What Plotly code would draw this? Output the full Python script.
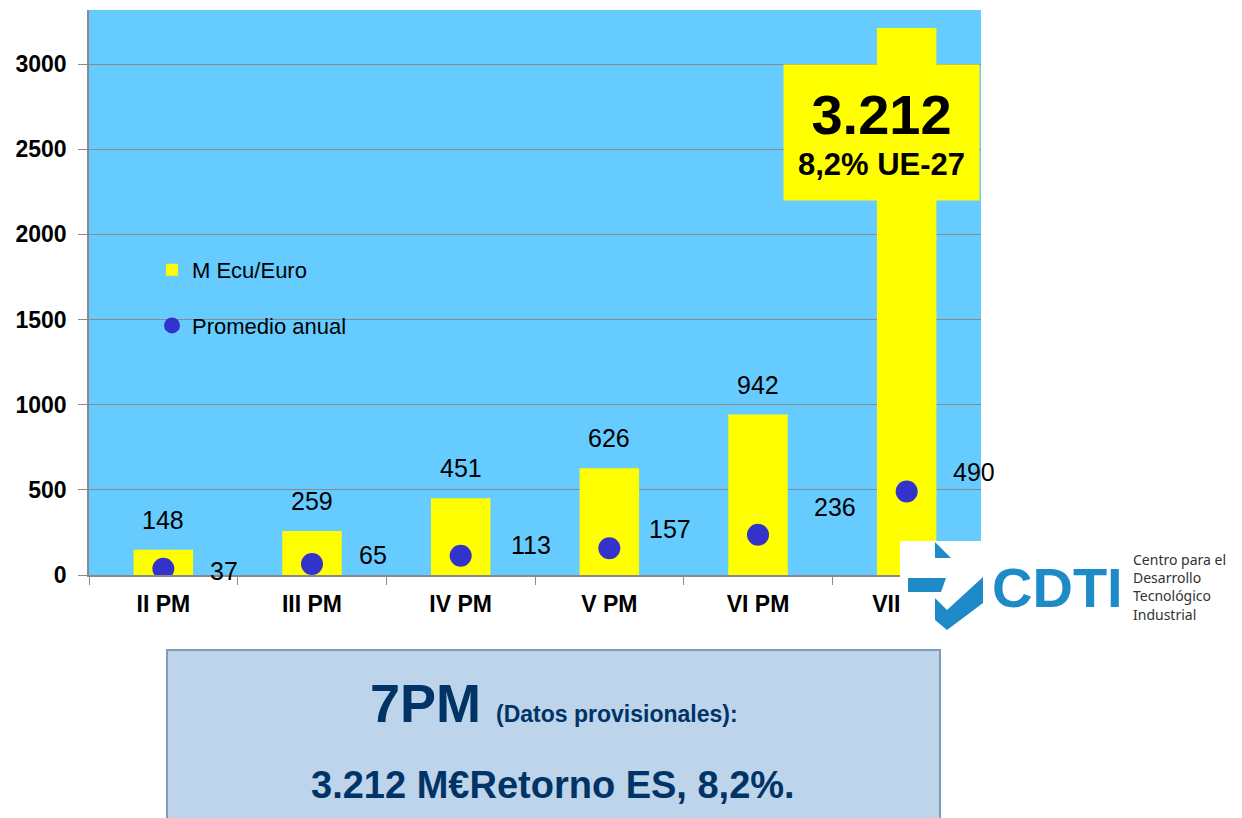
import plotly.graph_objects as go

# data
periods = ["II PM", "III PM", "IV PM", "V PM", "VI PM", "VII PM"]
funding = [148, 259, 451, 626, 942, 3212]      # M Ecu/Euro
annual_avg = [37, 65, 113, 157, 236, 490]      # Promedio anual
share_label = "8,2% UE-27"
box_title = "7PM"
box_note = "(Datos provisionales):"
box_line = "3.212 M€Retorno ES, 8,2%."
logo_word = "CDTI"
logo_lines = ["Centro para el", "Desarrollo", "Tecnológico", "Industrial"]

SANS = "Liberation Sans, Arial, sans-serif"
NAVY = "#003366"
LOGO_BLUE = "#1E8BC8"

W, H = 1242, 818
# page body has an 8px margin, so the plot box (89..981, 10..575 on the page)
# is shifted back by 8px here
L, R, T, B = 81, 269, 2, 251
PW = W - L - R
PH = H - T - B


def px(x):  # page pixel -> paper x
    return (x - 8 - L) / PW


def py(y):  # page pixel -> paper y
    return (H - B - (y - 8)) / PH


def es(v):
    return f"{v:,}".replace(",", ".")


def poly(pts):
    return "M" + " L".join(f"{px(x)},{py(y)}" for x, y in pts) + " Z"


fig = go.Figure()
fig.add_trace(go.Bar(
    x=periods, y=funding, name="M Ecu/Euro", width=0.4,
    marker=dict(color="#FFFF00", line=dict(width=0)),
    legendgroup="a", hoverinfo="skip"
))
fig.add_trace(go.Scatter(
    x=periods, y=annual_avg, name="Promedio anual", mode="markers",
    marker=dict(color="#3333CC", size=22),
    legendgroup="b", hoverinfo="skip"
))

annotations = []
# value labels above bars (the last one gets the big yellow box)
for p, v in zip(periods[:-1], funding[:-1]):
    annotations.append(dict(x=p, y=v, text=str(v), showarrow=False,
                            xanchor="center", yanchor="middle", yshift=30,
                            font=dict(family=SANS, size=25, color="black")))

# labels for the annual averages
dot_dx = [45, 45, 48, 38, 54, 44]
dot_dy = [-2, 9, 11, 19, 28, 20]
for p, v, dx, dy in zip(periods, annual_avg, dot_dx, dot_dy):
    annotations.append(dict(x=p, y=v, text=str(v), showarrow=False,
                            xanchor="left", yanchor="middle", xshift=dx, yshift=dy,
                            font=dict(family=SANS, size=25, color="black")))

annotations.append(dict(
    x=periods[-1], y=funding[-1], showarrow=False, xanchor="center", yanchor="middle",
    text=f"<b><span style='font-size:56px'>{es(funding[-1])}</span><br>{share_label}</b>",
    font=dict(family=SANS, size=31, color="black"),
    bgcolor="#FFFF00", width=195, height=135, borderpad=0,
    xshift=-25.5, yshift=-104.5
))

# bottom box text
annotations.append(dict(
    xref="paper", yref="paper", x=px(554), y=py(703), showarrow=False,
    xanchor="center", yanchor="middle",
    text=f"<b>{box_title} <span style='font-size:23px'>{box_note}</span></b>",
    font=dict(family=SANS, size=54, color=NAVY)
))
annotations.append(dict(
    xref="paper", yref="paper", x=px(553), y=py(785), showarrow=False,
    xanchor="center", yanchor="middle",
    text=f"<b>{box_line}</b>",
    font=dict(family=SANS, size=38, color=NAVY)
))

# logo text
annotations.append(dict(
    xref="paper", yref="paper", x=px(1057), y=py(587), showarrow=False,
    xanchor="center", yanchor="middle",
    text=f"<b>{logo_word}</b>", font=dict(family=SANS, size=56, color=LOGO_BLUE)
))
annotations.append(dict(
    xref="paper", yref="paper", x=px(1131), y=py(587), showarrow=False,
    xanchor="left", yanchor="middle", align="left", text="<br>".join(logo_lines),
    font=dict(family="Noto Sans", size=14, color="#333333")
))

shapes = [
    # provisional data box
    dict(type="rect", xref="paper", yref="paper", layer="above",
         x0=px(167), x1=px(940), y0=py(840), y1=py(650),
         fillcolor="#BDD4EB", line=dict(color="#7E9CBB", width=2)),
    # logo patch
    dict(type="rect", xref="paper", yref="paper", layer="above",
         x0=px(900), x1=px(1250), y0=py(636), y1=py(541),
         fillcolor="white", line=dict(width=0)),
    dict(type="path", xref="paper", yref="paper", layer="above",
         path=poly([(935, 542), (951, 558), (935, 558)]),
         fillcolor=LOGO_BLUE, line=dict(width=0)),
    dict(type="path", xref="paper", yref="paper", layer="above",
         path=poly([(908, 578), (946, 578), (941, 592), (908, 592)]),
         fillcolor=LOGO_BLUE, line=dict(width=0)),
    dict(type="path", xref="paper", yref="paper", layer="above",
         path=poly([(935, 598), (947, 610), (983, 577), (983, 603), (947, 630), (935, 620)]),
         fillcolor=LOGO_BLUE, line=dict(width=0)),
]

fig.update_layout(
    width=W, height=H,
    margin=dict(l=L, r=R, t=T, b=B),
    paper_bgcolor="white",
    plot_bgcolor="#66CCFF",
    font=dict(family=SANS, color="black"),
    showlegend=True,
    legend=dict(x=px(152), y=py(249), xanchor="left", yanchor="top",
                bgcolor="rgba(0,0,0,0)", tracegroupgap=24,
                font=dict(family=SANS, size=22, color="black")),
    annotations=annotations,
    shapes=shapes,
)
fig.update_yaxes(
    range=[0, 3317], tickvals=[0, 500, 1000, 1500, 2000, 2500, 3000],
    showgrid=True, gridcolor="#8A8A8A", gridwidth=1.2, zeroline=False,
    showline=True, linecolor="#8A8A8A", linewidth=1.5,
    ticks="outside", ticklen=9, tickcolor="#8A8A8A", ticklabelstandoff=7,
    tickfont=dict(family=SANS, size=23, color="black", weight="bold"),
)
fig.update_xaxes(
    range=[-0.5, 5.5], showline=True, linecolor="#8A8A8A", linewidth=1.5,
    ticks="outside", ticklen=8, tickcolor="#8A8A8A", tickson="boundaries",
    ticklabelstandoff=8,
    tickfont=dict(family=SANS, size=23, color="black", weight="bold"),
)

fig.write_html("out.html")
